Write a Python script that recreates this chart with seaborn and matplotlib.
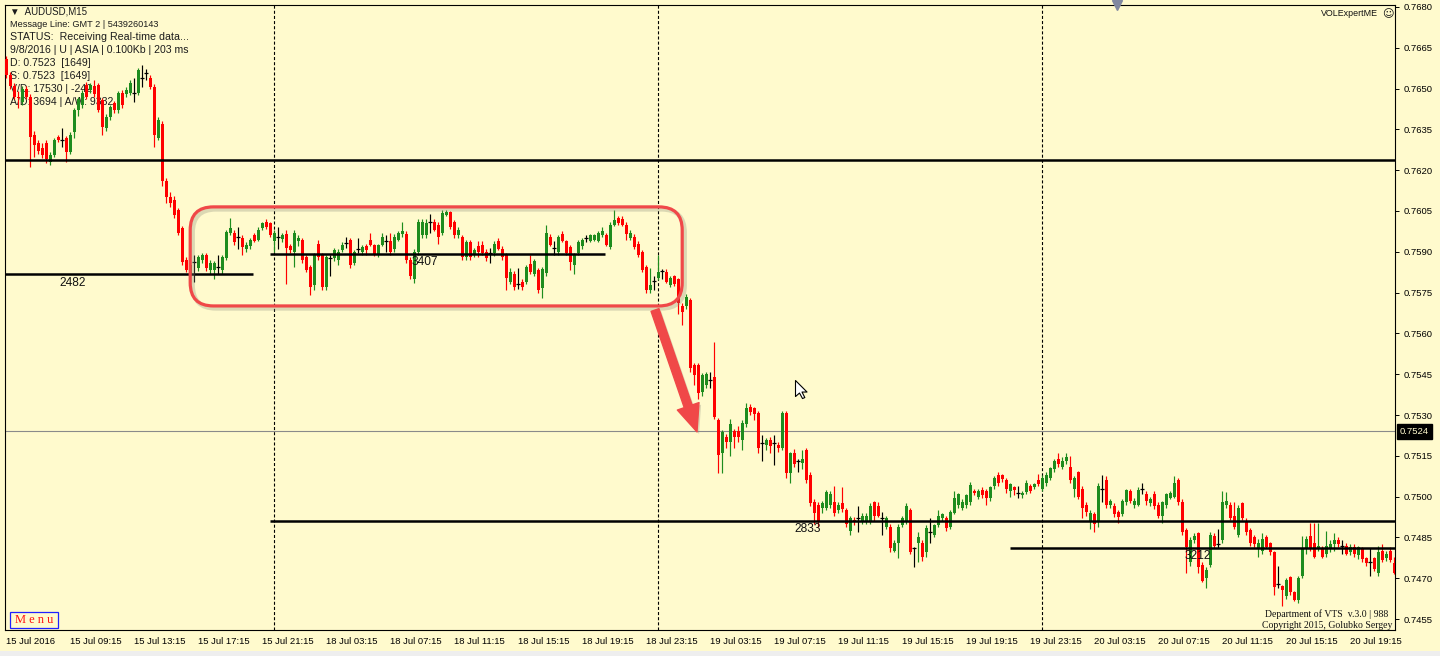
import numpy as np
import pandas as pd
import seaborn as sns
import matplotlib
matplotlib.use("Agg")
import matplotlib.pyplot as plt
import matplotlib.patheffects as pe
import matplotlib.transforms as mtransforms
from matplotlib.patches import FancyBboxPatch, FancyArrowPatch, Rectangle
from matplotlib.path import Path

# AUDUSD M15 candles, prices in pips (x 0.0001)
opens = [
    7661, 7655, 7651, 7647, 7645, 7650, 7647, 7633, 7630, 7628,
    7630, 7623, 7625.6, 7632.3, 7631, 7631.8, 7626.7, 7634, 7642, 7644,
    7651.3, 7649.5, 7651, 7651.3, 7645.8, 7635.4, 7639.7, 7644.7, 7642, 7648.4,
    7648, 7648.4, 7648.3, 7648.4, 7654, 7655.7, 7654, 7650.6, 7632, 7637,
    7616, 7610, 7609, 7605.4, 7598.7, 7587, 7581.5, 7586.4, 7584, 7587,
    7588.8, 7583.3, 7583.3, 7584.4, 7583.3, 7587.7, 7597, 7597, 7595.5, 7595,
    7591, 7592, 7596, 7594.5, 7598.7, 7600.9, 7600.5, 7594, 7595.5, 7594.8,
    7596.6, 7592, 7590, 7594, 7594.3, 7588, 7584.4, 7577.7, 7593, 7588.8,
    7577, 7587.7, 7587.7, 7587, 7590.7, 7593.2, 7594.3, 7586, 7591, 7590,
    7592, 7594.3, 7592.5, 7589, 7592.5, 7594, 7594, 7591, 7594.5, 7596.6,
    7596.6, 7587, 7580, 7590, 7596, 7596, 7601, 7601, 7600, 7597,
    7603.5, 7604.5, 7601, 7596, 7595.5, 7588, 7593.6, 7589, 7592, 7592.5,
    7590, 7589.6, 7589.6, 7594, 7591, 7588.8, 7579, 7582, 7578, 7579,
    7579, 7585.5, 7582, 7583.3, 7576.6, 7582.2, 7595.5, 7591.4, 7590, 7596.6,
    7594, 7591.8, 7585, 7589.6, 7592, 7595, 7594, 7594.5, 7594, 7596,
    7596, 7591.8, 7600, 7602.4, 7602, 7600, 7595, 7595.5, 7593, 7590,
    7584.4, 7576, 7579.3, 7580.4, 7583, 7582.6, 7577.7, 7581, 7580, 7570,
    7570, 7572.3, 7548.4, 7548.4, 7538.5, 7541, 7543, 7544, 7528, 7516,
    7522, 7520, 7524, 7524, 7521, 7526.6, 7533, 7532.5, 7530.7, 7519.7,
    7519, 7521, 7519.7, 7519, 7518, 7530.7, 7508.7, 7516, 7513, 7512.4,
    7517, 7508, 7498, 7497, 7496, 7496, 7497, 7498, 7495, 7497.6,
    7495, 7487.5, 7491.5, 7492, 7491, 7491, 7491, 7498, 7496.6, 7492,
    7489, 7489, 7480, 7483, 7489.5, 7491, 7495, 7481, 7483, 7483,
    7479.5, 7487, 7486, 7489.5, 7492, 7492, 7489, 7494, 7497, 7496,
    7497, 7498, 7502, 7500, 7502.5, 7502, 7499.5, 7504, 7508, 7508,
    7506, 7502, 7503.5, 7501.5, 7500.5, 7501.6, 7504, 7503.5, 7506, 7502.8,
    7505, 7507, 7510, 7514, 7511, 7513, 7511, 7503, 7509, 7503,
    7497, 7491, 7493.5, 7491, 7503, 7506, 7497, 7496.6, 7494.5, 7493.5,
    7498, 7502, 7497, 7497, 7503, 7501, 7497.5, 7501, 7497, 7493,
    7497, 7499.5, 7500, 7506, 7498, 7487.7, 7476, 7484, 7486.6, 7475,
    7470, 7475, 7485.5, 7482.5, 7484, 7497, 7497, 7493, 7486, 7497.6,
    7491, 7487.7, 7485, 7481, 7480, 7485, 7483, 7479.6, 7468, 7467,
    7463.5, 7470.4, 7465, 7462, 7471, 7481, 7485.5, 7483, 7481, 7481,
    7479, 7481, 7482.5, 7484, 7482, 7482, 7479.5, 7481.5, 7478.6, 7480.8,
    7477.4, 7476, 7477.4, 7472, 7480, 7477.5, 7480, 7475.5,
]
highs = [
    7662, 7656, 7652, 7649, 7651, 7651, 7648, 7634.5, 7631, 7630,
    7631, 7626.5, 7632, 7633, 7635.5, 7632.5, 7634, 7643, 7647, 7649.5,
    7652.5, 7652, 7653, 7652, 7646.5, 7640.5, 7644, 7645.5, 7649, 7649.5,
    7650.5, 7653, 7654, 7657.5, 7658.7, 7657, 7655, 7651.5, 7639.5, 7638,
    7617, 7612, 7610.5, 7606, 7599.5, 7588, 7586, 7588.8, 7589, 7589.5,
    7589.5, 7587, 7586.5, 7588.8, 7589, 7598, 7602.4, 7598, 7599, 7596,
    7593.5, 7595, 7597, 7599, 7601, 7602, 7601, 7598, 7599, 7597,
    7598, 7593, 7598, 7596, 7595, 7589, 7585, 7589.5, 7594.5, 7589.5,
    7588.8, 7589, 7591.5, 7591, 7593.5, 7595.5, 7595, 7590.5, 7595, 7592.5,
    7593, 7597, 7593, 7593, 7597, 7596, 7597, 7596.5, 7597.5, 7601,
    7597.5, 7588, 7591, 7602, 7602, 7602, 7604, 7602, 7601, 7605.4,
    7605.4, 7605, 7601.5, 7599, 7596, 7594.5, 7594.5, 7591.5, 7594, 7594,
    7591, 7591.5, 7594, 7595, 7592, 7589.5, 7584, 7583, 7584, 7580,
    7585, 7588.8, 7587.5, 7584, 7584.5, 7600, 7596.5, 7594, 7596, 7597.5,
    7594.5, 7592.5, 7589.5, 7594.5, 7595, 7596, 7596.5, 7596.5, 7597.5, 7599,
    7597, 7601, 7605.4, 7603, 7603, 7601, 7598, 7596.5, 7594, 7590.5,
    7585, 7584, 7581, 7589, 7583.5, 7583.5, 7581, 7581.5, 7580.5, 7571,
    7574.5, 7573, 7549, 7549, 7545.5, 7546, 7546, 7556.8, 7529, 7524.5,
    7523, 7528.5, 7525, 7526, 7528, 7534.4, 7534, 7533, 7531.5, 7522.5,
    7521.5, 7522, 7522.5, 7520, 7531.5, 7531.5, 7516.5, 7517.5, 7514, 7517,
    7518, 7509, 7499, 7498, 7498.5, 7502.5, 7502, 7504, 7498, 7503.5,
    7496, 7493, 7492.5, 7496.5, 7494, 7494, 7497.5, 7498.5, 7498, 7494.5,
    7493, 7490, 7484, 7490, 7493, 7497.5, 7496, 7481.5, 7487, 7484,
    7489.5, 7492, 7490, 7495, 7494, 7493, 7495, 7502, 7501.5, 7499,
    7501, 7505.5, 7503, 7503, 7503.5, 7503, 7504, 7507.5, 7509, 7508.5,
    7507, 7505, 7504, 7504, 7502, 7506, 7504.5, 7505, 7508.5, 7508,
    7509, 7511, 7514, 7516, 7514.5, 7516, 7515, 7507.5, 7509.5, 7504,
    7498, 7495, 7494.5, 7505, 7508, 7507.5, 7499, 7497.5, 7495, 7499,
    7503, 7503, 7499.5, 7503.5, 7505, 7502, 7500, 7502, 7498, 7498.5,
    7501.5, 7502, 7507.5, 7507, 7499, 7488.5, 7485, 7486.5, 7487, 7476,
    7474, 7487, 7486.5, 7488, 7502, 7501.7, 7498, 7498, 7497, 7498,
    7492, 7488.5, 7486, 7484.5, 7486.5, 7486, 7483.5, 7480, 7474.5, 7467.5,
    7470, 7471, 7465.5, 7471, 7485.5, 7485.5, 7490.5, 7490.5, 7490.5, 7482,
    7487.5, 7484, 7486.5, 7485, 7484, 7483, 7482.5, 7482.5, 7482, 7481.5,
    7478, 7481, 7478, 7482, 7482.5, 7480, 7481.5, 7478,
]
lows = [
    7654, 7650, 7646, 7643, 7644, 7646, 7621.3, 7625, 7626, 7624.5,
    7622.5, 7622, 7625, 7630.5, 7628.5, 7623, 7626, 7632, 7640, 7643,
    7646, 7648.5, 7647, 7641.5, 7633, 7634.5, 7638.5, 7641, 7641, 7643,
    7647, 7647.5, 7645, 7647.5, 7650.6, 7653, 7650, 7628.6, 7631, 7614,
    7608, 7606.5, 7602.5, 7596, 7585, 7582.5, 7579, 7579, 7583, 7586,
    7583, 7582, 7580, 7582, 7582, 7587, 7596, 7592.5, 7591, 7589,
    7590, 7591, 7593.5, 7594, 7598, 7598.5, 7595.5, 7590, 7591, 7593.5,
    7578, 7589.5, 7584.4, 7592, 7586, 7582.5, 7574, 7576, 7587, 7576,
    7576, 7581, 7586.5, 7585, 7590, 7591.5, 7584, 7585, 7589.5, 7589,
    7589, 7592, 7588.5, 7588, 7592, 7590, 7589, 7590, 7594, 7595.5,
    7586, 7580, 7578.5, 7589, 7595, 7595, 7597, 7597.5, 7593, 7596,
    7603, 7598.5, 7595, 7595, 7587, 7587, 7587, 7588, 7588, 7589,
    7586.5, 7586, 7588.5, 7590.5, 7587, 7576, 7578, 7576, 7576.5, 7576,
    7578, 7582, 7581, 7575, 7573, 7581, 7592, 7589, 7589, 7593.5,
    7589, 7583.3, 7582, 7589, 7591, 7593.5, 7593.5, 7594, 7593.5, 7595.5,
    7592, 7591, 7599.5, 7600, 7599.5, 7594.5, 7594.5, 7591, 7588, 7582.5,
    7575, 7575, 7576, 7579.5, 7580, 7578.5, 7577, 7577.5, 7567, 7563,
    7569, 7546, 7541, 7536, 7537, 7540, 7540, 7528.5, 7508.7, 7508.7,
    7518, 7515, 7518, 7520, 7517, 7525.5, 7530, 7528, 7516, 7513,
    7517, 7516, 7511.5, 7516.5, 7517, 7507, 7505, 7511, 7509, 7510,
    7505, 7496.5, 7490, 7489, 7494, 7495, 7496, 7493, 7494, 7494.5,
    7489, 7486, 7489.5, 7487, 7490, 7490, 7490, 7491, 7492.5, 7486,
    7488, 7479.5, 7479.5, 7477.4, 7489, 7490, 7479, 7474, 7476, 7476.5,
    7478, 7483, 7485, 7489, 7491, 7487.5, 7488, 7493.5, 7496, 7495,
    7496, 7497, 7500.5, 7499, 7499.5, 7497, 7498.5, 7503, 7504, 7505.5,
    7501.5, 7500, 7500.5, 7499.5, 7499.5, 7501, 7501.5, 7503, 7504, 7502,
    7504, 7506, 7509, 7511, 7510, 7512, 7505, 7500, 7499, 7492,
    7493, 7488, 7487, 7489, 7498, 7496, 7496, 7492.5, 7490.5, 7493,
    7497, 7497.5, 7496, 7496.5, 7501, 7497, 7496.5, 7495.5, 7492, 7490.5,
    7496, 7499, 7499.5, 7497, 7486, 7472, 7474.5, 7483, 7472, 7468.6,
    7466.5, 7474, 7481, 7481, 7483, 7496, 7491.5, 7488, 7485, 7491.5,
    7486, 7482, 7481.5, 7478, 7479, 7481, 7478.5, 7464, 7466.5, 7460,
    7462.5, 7464, 7461.5, 7461, 7470, 7479, 7480, 7477.5, 7480, 7477.5,
    7478, 7479.5, 7480, 7481.5, 7479, 7478.5, 7478.5, 7478, 7477, 7476,
    7474.5, 7471, 7472.5, 7471, 7476, 7476.5, 7476, 7471.5,
]
closes = [
    7655, 7651, 7647, 7646.5, 7650, 7647, 7632.3, 7629.3, 7627, 7625.5,
    7624, 7625.6, 7631, 7631.1, 7631, 7626.7, 7633, 7642, 7646, 7648.4,
    7646.9, 7651.3, 7648, 7642, 7636, 7639.7, 7643.3, 7642.1, 7648.4, 7644,
    7649.5, 7652, 7648.3, 7656.8, 7654, 7655.7, 7650.6, 7633, 7638.5, 7616,
    7610, 7608, 7603.5, 7597, 7586.2, 7583.3, 7585.1, 7586.4, 7588, 7588.8,
    7584, 7586, 7586, 7584.4, 7588, 7597.3, 7598.7, 7593.6, 7595.5, 7591.8,
    7592.5, 7594.3, 7594, 7598, 7600.5, 7599, 7596, 7597, 7595.5, 7596,
    7591.5, 7590.7, 7597, 7595, 7587, 7583.3, 7577, 7588.8, 7588, 7577,
    7588, 7587.7, 7590.7, 7590, 7592.5, 7593.2, 7585, 7590, 7591, 7591.8,
    7590.5, 7592.5, 7589, 7592.5, 7595.5, 7594, 7590, 7595.5, 7597, 7597.5,
    7587, 7581, 7590, 7601, 7601, 7600.5, 7601, 7598, 7595.5, 7604.3,
    7604.5, 7599, 7596, 7598, 7588, 7593.6, 7588, 7590.7, 7590, 7589.5,
    7587.7, 7589.6, 7593, 7591, 7588, 7580.4, 7582.6, 7577, 7578, 7577,
    7584.4, 7582.6, 7586.6, 7576, 7583.7, 7597, 7592.5, 7591.4, 7595.5, 7594,
    7589.6, 7586.2, 7588.8, 7593.6, 7594.3, 7595, 7596, 7596, 7597, 7597.5,
    7592.5, 7600, 7601.7, 7600.5, 7600, 7596.6, 7597, 7591.8, 7588.8, 7583.3,
    7576, 7577.7, 7579.3, 7582.6, 7583, 7579, 7580.4, 7578, 7571, 7567.7,
    7573.3, 7547.3, 7544.7, 7538, 7544.7, 7545, 7543, 7529.3, 7515.3, 7523.8,
    7520, 7526.6, 7522, 7522, 7527, 7532.6, 7531, 7530.5, 7518, 7519.7,
    7521, 7518.5, 7519.7, 7518, 7530.7, 7508.7, 7516, 7512, 7513, 7514,
    7506, 7497.6, 7494, 7491, 7497.6, 7501.6, 7501, 7494, 7497, 7495.5,
    7490, 7492, 7490.8, 7492, 7493, 7493, 7496.6, 7493, 7493, 7492,
    7492, 7481, 7483, 7489, 7492, 7496.6, 7479.6, 7481, 7485, 7478,
    7488.6, 7487, 7489.5, 7493, 7493.5, 7488.6, 7494.5, 7499.5, 7501, 7498,
    7500.5, 7504.2, 7501.2, 7502, 7500.5, 7499.5, 7503.5, 7507, 7505, 7506.5,
    7503, 7504.5, 7502.5, 7501.5, 7501.5, 7505, 7502.2, 7504.5, 7504.5, 7507,
    7508, 7510.4, 7513, 7512, 7513, 7514.5, 7506, 7507, 7500, 7496,
    7494.5, 7494, 7490, 7504, 7503, 7497, 7498.5, 7493.5, 7492.5, 7498.5,
    7502.5, 7498.5, 7498.5, 7502.5, 7503, 7498.5, 7499, 7496.6, 7493, 7498,
    7501, 7501.5, 7505, 7498, 7487, 7481.5, 7484, 7485.5, 7474, 7469,
    7473, 7486, 7482, 7482.5, 7498, 7498.5, 7492, 7489, 7496, 7492,
    7487, 7483, 7482.5, 7483, 7484.4, 7481.5, 7479.5, 7466.7, 7468, 7465.8,
    7469.3, 7465, 7462, 7470, 7481, 7484.4, 7481, 7478, 7482, 7478,
    7482, 7482.5, 7484, 7482.5, 7482, 7479, 7481.5, 7479, 7481.5, 7477,
    7475.5, 7476, 7473.3, 7479.5, 7476.6, 7479, 7476.6, 7472,
]

x_labels = ["15 Jul 2016", "15 Jul 09:15", "15 Jul 13:15", "15 Jul 17:15", "15 Jul 21:15",
            "18 Jul 03:15", "18 Jul 07:15", "18 Jul 11:15", "18 Jul 15:15", "18 Jul 19:15",
            "18 Jul 23:15", "19 Jul 03:15", "19 Jul 07:15", "19 Jul 11:15", "19 Jul 15:15",
            "19 Jul 19:15", "19 Jul 23:15", "20 Jul 03:15", "20 Jul 07:15", "20 Jul 11:15",
            "20 Jul 15:15", "20 Jul 19:15"]
y_ticks = [0.7455, 0.7470, 0.7485, 0.7500, 0.7515, 0.7530, 0.7545, 0.7560,
           0.7575, 0.7590, 0.7605, 0.7620, 0.7635, 0.7650, 0.7665, 0.7680]

# day separators (bar index) and horizontal levels: (price, start bar, end bar, label, label bar, label price)
separators = [67, 163, 259]
levels = [
    (0.76237, -0.3, 347.2, None, None, None),
    (0.75820, -0.3, 61.7, "2482", 16.7, 0.75785),
    (0.75892, 65.9, 149.7, "3407", 104.7, 0.75862),
    (0.74910, 65.9, 347.2, "2833", 200.4, 0.74881),
    (0.74811, 250.9, 347.2, "3212", 298.0, 0.74782),
]
last_price = 0.7524

BG = "#FFFACD"
sns.set_theme(style="white", rc={"axes.facecolor": BG, "figure.facecolor": BG,
                                 "axes.edgecolor": "black", "lines.scale_dashes": False})
plt.rcParams["font.family"] = ["Liberation Sans", "DejaVu Sans"]

df = pd.DataFrame({"open": opens, "high": highs, "low": lows, "close": closes}) / 10000.0
df["bar"] = np.arange(len(df))
bull = df["close"] > df["open"]
bear = df["close"] < df["open"]
doji = ~(bull | bear)
col = np.where(bull, "#1E8C1E", np.where(bear, "#FF0000", "#000000"))

fig = plt.figure(figsize=(14.4, 6.56), dpi=100)
ax = fig.add_axes([5 / 1440, 26 / 656, 1390 / 1440, 625 / 656])
xlim = (-0.3, 347.2)
ylim = (0.74510, 0.76807)
ax.set_xlim(*xlim)
ax.set_ylim(*ylim)

# period separators and last price line
for s in separators:
    ax.axvline(s, color="black", lw=0.8, linestyle=(0, (2.2, 1.5)), zorder=1)
ax.axhline(last_price, color="#8a8a8a", lw=0.8, zorder=2)

# candles
ax.vlines(df["bar"], df["low"], df["high"], colors=col, lw=0.85, zorder=3)
body = df[~doji]
ax.bar(body["bar"], body["close"] - body["open"], bottom=body["open"], width=0.72,
       color=col[~doji.values], linewidth=0, zorder=3)
dj = df[doji]
ax.hlines(dj["close"], dj["bar"] - 0.45, dj["bar"] + 0.45, colors="black", lw=0.9, zorder=3)

# levels
for price, b0, b1, lab, lx, ly in levels:
    ax.hlines(price, b0, b1, colors="black", lw=1.8, zorder=4)
    if lab:
        ax.text(lx, ly, lab, ha="center", va="center", fontsize=8.6, color="#111111", zorder=5)

# rounded range box and arrow
px_per_bar = 1390 / (xlim[1] - xlim[0])
px_per_price = 625 / (ylim[1] - ylim[0])
aspect = px_per_bar / px_per_price
shadow = [pe.SimpleLineShadow(offset=(1.8, -1.8), shadow_color="#8a8a7a", alpha=0.3, linewidth=3.2), pe.Normal()]
box = FancyBboxPatch((46.0, 0.75701), 169.0 - 46.0, 0.76065 - 0.75701,
                     boxstyle="round,pad=0,rounding_size=5.8", mutation_aspect=aspect,
                     fill=False, ec="#F04848", lw=2.3, zorder=6, path_effects=shadow)
ax.add_patch(box)
arrow = FancyArrowPatch((162.2, 0.75686), (172.7, 0.75238),
                        arrowstyle="simple,head_length=1.3,head_width=1.1,tail_width=0.4",
                        mutation_scale=15, color="#F04848", shrinkA=0, shrinkB=0, zorder=6,
                        path_effects=[pe.SimplePatchShadow(offset=(1.5, -1.5), shadow_rgbFace="#8a8a7a", alpha=0.3), pe.Normal()])
ax.add_patch(arrow)

# mouse cursor
cursor = Path([(0, 0), (0, -16), (4, -12.5), (7, -18), (9.3, -17), (6.5, -11.5), (11.5, -11.5), (0, 0)],
              [Path.MOVETO] + [Path.LINETO] * 6 + [Path.CLOSEPOLY])
ax.plot([197.2], [0.75429], marker=cursor, ms=26, mfc="white", mec="black", mew=0.8, zorder=7)

# axes, ticks
for sp in ax.spines.values():
    sp.set_color("black")
    sp.set_linewidth(0.8)
ax.yaxis.tick_right()
ax.set_yticks(y_ticks)
ax.set_yticklabels([f"{v:.4f}" for v in y_ticks])
ax.set_xticks(np.arange(0, 16 * len(x_labels), 16))
ax.set_xticklabels(x_labels, ha="left")
ax.tick_params(axis="y", direction="out", length=3, width=0.7, pad=3, labelsize=6.8, colors="black")
ax.tick_params(axis="x", direction="out", length=3, width=0.7, pad=2, labelsize=6.8, colors="black")
ax.grid(False)

blend = mtransforms.blended_transform_factory(ax.transAxes, ax.transData)
ax.text(1.0 + 5 / 1390, last_price, "0.7524", transform=blend, ha="left", va="center",
        fontsize=6.8, color="#FFFACD", zorder=8, clip_on=False,
        bbox=dict(boxstyle="square,pad=0.35", fc="black", ec="black"))

# info text (behind candles)
info = [
    ("\u25bc  AUDUSD,M15", 0.9888, 7.0),
    ("Message Line: GMT 2 | 5439260143", 0.9688, 6.6),
    ("STATUS:  Receiving Real-time data...", 0.9488, 7.7),
    ("9/8/2016 | U | ASIA | 0.100Kb | 203 ms", 0.9280, 7.6),
    ("D: 0.7523  [1649]", 0.9072, 7.6),
    ("S: 0.7523  [1649]", 0.8864, 7.6),
    ("V/D: 17530 | -242", 0.8656, 7.6),
    ("A/D: 3694 | A/W: 9332", 0.8448, 7.6),
]
for t, yy, fs in info:
    ax.text(0.0036, yy, t, transform=ax.transAxes, ha="left", va="center",
            fontsize=fs, color="#1c1c1c", zorder=2)

ax.text(0.9878, 0.9856, "VOLExpertME", transform=ax.transAxes, ha="right", va="center",
        fontsize=6.4, color="#111111", zorder=8)
ax.text(0.9993, 0.9856, "\u263a", transform=ax.transAxes, ha="right", va="center",
        fontsize=8, color="#111111", zorder=8, family=["DejaVu Sans"])
tri = mtransforms.blended_transform_factory(ax.transData, ax.transAxes)
ax.plot([277.7], [1.0], marker="v", ms=7, color="#8088a0", transform=tri, clip_on=False, zorder=8)

ax.text(0.951, 0.0256, "Department of VTS  v.3.0 | 988", transform=ax.transAxes, ha="center",
        va="center", fontsize=7, color="#111111", family=["Liberation Serif"], zorder=8)
ax.text(0.951, 0.0070, "Copyright 2015, Golubko Sergey", transform=ax.transAxes, ha="center",
        va="center", fontsize=7, color="#111111", family=["Liberation Serif"], zorder=8)

ax.add_patch(Rectangle((0.0036, 0.0032), 0.0345, 0.0256, transform=ax.transAxes,
                       fc=BG, ec="#2020FF", lw=0.9, zorder=8))
ax.text(0.0209, 0.016, "M e n u", transform=ax.transAxes, ha="center", va="center",
        fontsize=9, color="#FF1010", family=["Liberation Serif"], zorder=9)

fig.patches.append(Rectangle((0, 0), 1, 5 / 656, transform=fig.transFigure, fc="#EEEEEE", ec="none"))

fig.savefig("out.png", dpi=100, facecolor=BG)
